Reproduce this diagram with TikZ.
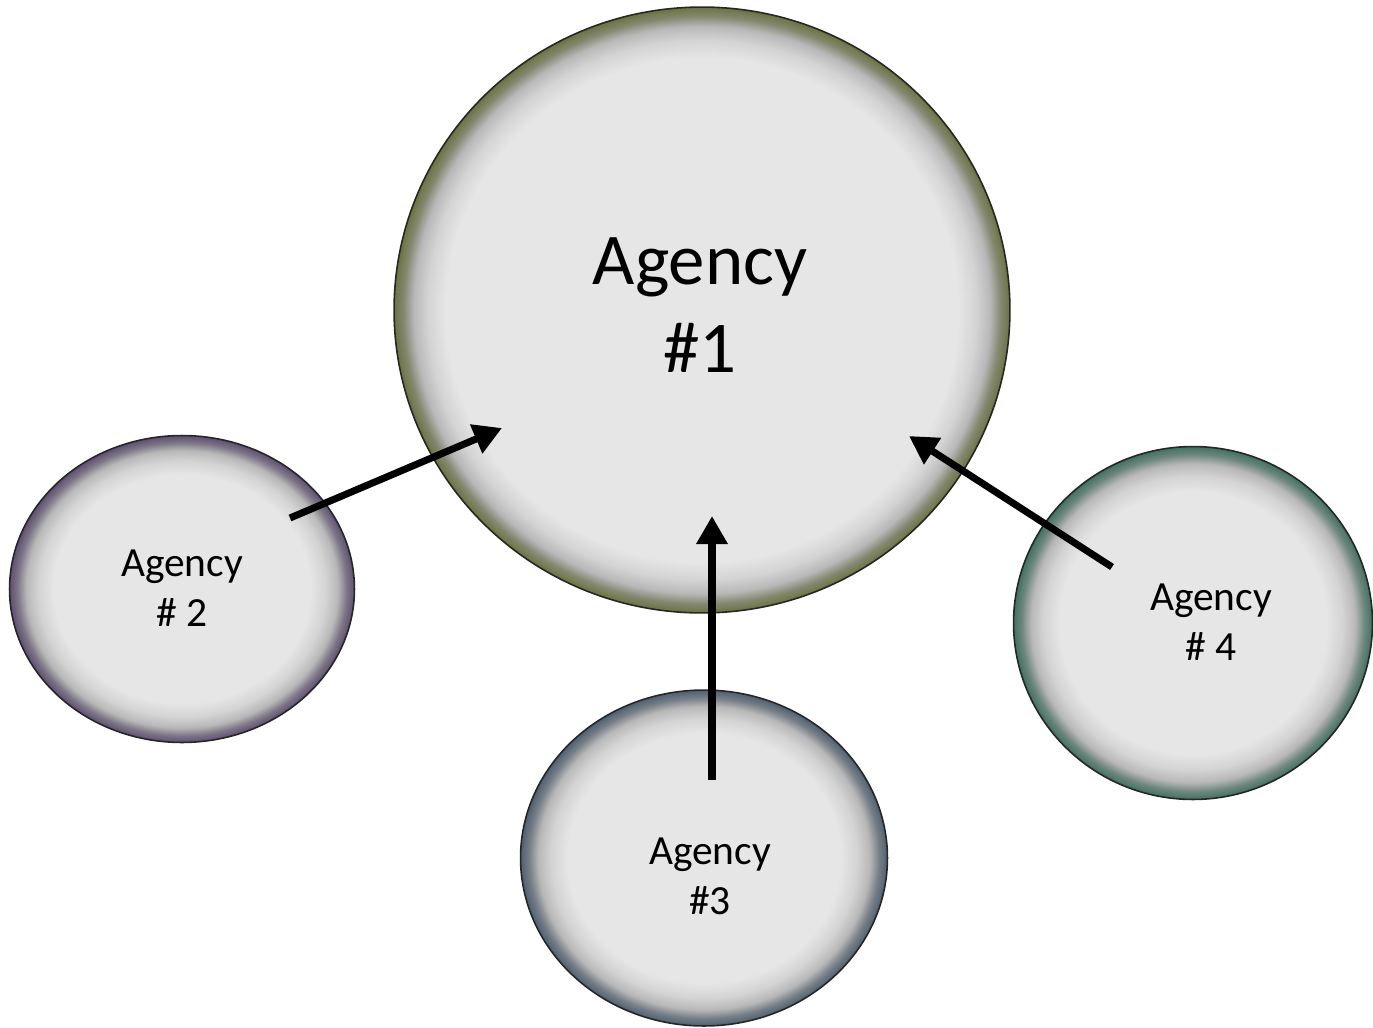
\documentclass[tikz,border=0pt]{standalone}
\usepackage{fontspec}
\setmainfont{Carlito}
\usetikzlibrary{shapes.geometric,arrows.meta}
\definecolor{lightg}{HTML}{E6E6E6}
\definecolor{edgeA}{HTML}{6A7440}
\definecolor{edgeB}{HTML}{5E4E72}
\definecolor{edgeC}{HTML}{4E6072}
\definecolor{edgeD}{HTML}{3F7260}
\colorlet{g1}{lightg!92!black}
\colorlet{g2}{lightg!80!black}
\colorlet{g3}{lightg!66!black}
\newcommand{\glowshading}[4]{% name, edge colour, start, span
  \pgfmathsetmacro{\ga}{#3}\pgfmathsetmacro{\gb}{#3+0.35*#4}\pgfmathsetmacro{\gc}{#3+0.62*#4}\pgfmathsetmacro{\gd}{#3+0.82*#4}
  \colorlet{#1m}{g3!55!#2}
  \edef\tmpdecl{\noexpand\pgfdeclareradialshading{#1}{\noexpand\pgfpoint{0bp}{0bp}}{color(0bp)=(lightg); color(\ga bp)=(lightg); color(\gb bp)=(g1); color(\gc bp)=(g2); color(\gd bp)=(#1m); color(25bp)=(#2); color(50bp)=(#2)}}%
  \tmpdecl}
\glowshading{glowA}{edgeA}{20.8}{4.2}
\glowshading{glowB}{edgeB}{18.6}{6.4}
\glowshading{glowC}{edgeC}{18.6}{6.4}
\glowshading{glowD}{edgeD}{18.6}{6.4}
\tikzset{
  agency/.style={ellipse, inner sep=0pt, draw=black!85, line width=0.9pt},
  bigtext/.style={align=center, font=\fontsize{41.5}{50}\selectfont},
  smalltext/.style={align=center, font=\fontsize{23.6}{28.5}\selectfont},
  flow/.style={line width=4pt, -{Triangle[length=16pt,width=17pt]}, black}
}
\begin{document}
\begin{tikzpicture}[x=0.02cm,y=-0.02cm]
\useasboundingbox (0,0) rectangle (1373,1028);
\node[agency, shading=glowA, minimum width=12.32cm, minimum height=12.12cm] (a1) at (702,310) {};
\node[agency, shading=glowB, minimum width=6.9cm, minimum height=6.14cm] (a2) at (182,589) {};
\node[agency, shading=glowC, minimum width=7.34cm, minimum height=6.72cm] (a3) at (704,858) {};
\node[agency, shading=glowD, minimum width=7.18cm, minimum height=7.06cm] (a4) at (1193,623) {};
\node[bigtext] (l1) at (700,305) {Agency\\\#1};
\node[smalltext] (l2) at (182,588) {Agency\\\# 2};
\node[smalltext] (l3) at (710,876) {Agency\\\#3};
\node[smalltext] (l4) at (1211,622) {Agency\\\# 4};
\coordinate (s2) at (290,518);
\coordinate (t2) at (502,428);
\coordinate (s3) at (712,780);
\coordinate (t3) at (712,516);
\coordinate (s4) at (1112,567);
\coordinate (t4) at (909,436);
\draw[flow] (s2) -- (t2);
\draw[flow] (s3) -- (t3);
\draw[flow] (s4) -- (t4);
\end{tikzpicture}
\end{document}
